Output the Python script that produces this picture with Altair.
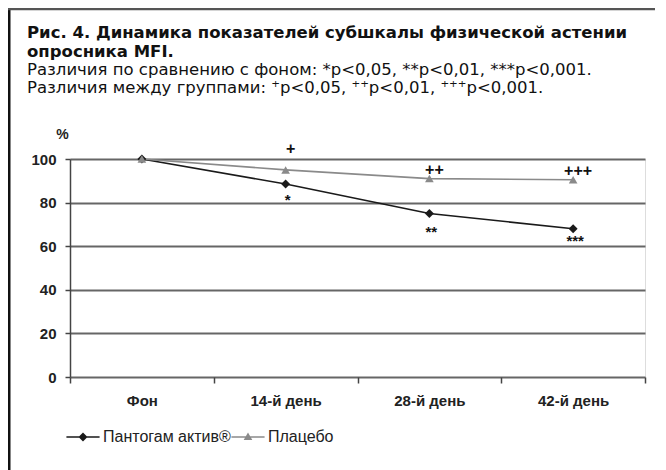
import altair as alt
import pandas as pd

categories = ["Фон", "14-й день", "28-й день", "42-й день"]
series_names = ["Пантогам актив®", "Плацебо"]
pantogam = [100, 88.5, 75, 68]
placebo = [100, 95, 91, 90.5]

plus_categories = ["14-й день", "28-й день", "42-й день"]
plus_values = [102.5, 92.8, 92.4]
plus_texts = ["+", "++", "+++"]

star_categories = ["14-й день", "28-й день", "42-й день"]
star_values = [78.7, 64, 59.9]
star_texts = ["*", "**", "***"]

y_ticks = [0, 20, 40, 60, 80, 100]

FONT = "Liberation Sans"
TFONT = "DejaVu Sans"
C_PANT = "#1a1a1a"
C_PLAC = "#8a8a8a"

rows = []
for c, v in zip(categories, pantogam):
    rows.append({"cat": c, "val": v, "series": series_names[0]})
for c, v in zip(categories, placebo):
    rows.append({"cat": c, "val": v, "series": series_names[1]})
df = pd.DataFrame(rows)

ann_plus = pd.DataFrame({"cat": plus_categories, "val": plus_values, "txt": plus_texts})
ann_star = pd.DataFrame({"cat": star_categories, "val": star_values, "txt": star_texts})

x_enc = alt.X(
    "cat:N",
    sort=categories,
    bandPosition=0.5,
    scale=alt.Scale(type="band", domain=categories, paddingInner=0, paddingOuter=0),
    axis=alt.Axis(
        title=None, labelAngle=0, tickBand="extent", tickSize=6, labelPadding=10,
        labelFont=FONT, labelFontSize=15, labelFontWeight="bold", labelColor="#222",
        domain=False, tickColor="#444", tickWidth=1.5, grid=False,
    ),
)
y_enc = alt.Y(
    "val:Q",
    scale=alt.Scale(domain=[0, 100], nice=False, zero=True),
    axis=alt.Axis(
        values=y_ticks, title="%", titleAngle=0, titleX=-8, titleY=-25,
        titleAlign="center", titleBaseline="middle", titleFont=FONT,
        titleFontSize=14, titleFontWeight="bold", titleColor="#222",
        labelFont=FONT, labelFontSize=15, labelFontWeight="bold", labelColor="#222",
        labelPadding=9, tickSize=5, tickColor="#444", tickWidth=1.5,
        domainColor="#444", domainWidth=1.5,
        grid=True, gridColor="#666", gridWidth=1.8,
    ),
)

color_scale = alt.Scale(domain=series_names, range=[C_PANT, C_PLAC])

shape_expr = (
    "datum.value === '" + series_names[1] + "' ? "
    "'M-1,-0.045H1V0.045H-1ZM-0.26,0.18L0,-0.27L0.26,0.18Z' : "
    "'M-1,-0.045H1V0.045H-1ZM-0.27,0L0,-0.27L0.27,0L0,0.27Z'"
)

legend = alt.Legend(
    title=None, orient="none", legendX=-4, legendY=261, direction="horizontal",
    labelFont=FONT, labelFontSize=16, labelColor="#222", labelOffset=3,
    symbolSize=1100, columnPadding=0, symbolStrokeWidth=0,
    symbolType={"expr": shape_expr},
)

color_enc = alt.Color("series:N", scale=color_scale, legend=legend)

lines = alt.Chart(df).mark_line(strokeWidth=1.6).encode(
    x=x_enc, y=y_enc, color=color_enc, detail="series:N",
)
points_pant = alt.Chart(df).transform_filter(
    alt.datum.series == series_names[0]
).mark_point(filled=True, opacity=1, size=80, shape="diamond").encode(
    x=x_enc, y=y_enc, color=color_enc,
)
points_plac = alt.Chart(df).transform_filter(
    alt.datum.series == series_names[1]
).mark_point(filled=True, opacity=1, size=75, shape="triangle-up").encode(
    x=x_enc, y=y_enc, color=color_enc,
)

plus_layer = alt.Chart(ann_plus).mark_text(
    font=FONT, fontSize=16, fontWeight="bold", color="#111", baseline="alphabetic", dx=5
).encode(x=x_enc, y=y_enc, text="txt:N")
star_layer = alt.Chart(ann_star).mark_text(
    font=FONT, fontSize=15, fontWeight="bold", color="#111", baseline="alphabetic", dx=2
).encode(x=x_enc, y=y_enc, text="txt:N")

one = alt.Data(values=[{}])
frame_left = alt.Chart(one).mark_rule(color="#111", strokeWidth=3).encode(
    x=alt.value(-61), y=alt.value(-151), y2=alt.value(311)
)
frame_top = alt.Chart(one).mark_rule(color="#555", strokeWidth=2.5).encode(
    x=alt.value(-62), x2=alt.value(600), y=alt.value(-150)
)

chart = alt.layer(frame_left, frame_top, lines, points_pant, points_plac, plus_layer, star_layer).properties(
    width=575, height=218,
    padding={"left": 62, "top": 151, "right": 10, "bottom": 93},
    autosize=alt.AutoSizeParams(type="none"),
    title=alt.Title(
        text=["Рис. 4. Динамика показателей субшкалы физической астении", "опросника MFI."],
        subtitle=["Различия по сравнению с фоном: *p<0,05, **p<0,01, ***p<0,001.",
                  "Различия между группами: ⁺p<0,05, ⁺⁺p<0,01, ⁺⁺⁺p<0,001."],
        anchor="start", frame="group", dx=-43, offset=-90,
        font=TFONT, fontSize=16.5, fontWeight="bold", color="#111", lineHeight=19,
        subtitleFont=TFONT, subtitleFontSize=16.5, subtitleColor="#111",
        subtitleLineHeight=18, subtitlePadding=2,
    ),
).configure_view(stroke="#555", strokeWidth=2).configure(background="white")

chart.save("out.html", embed_options={"renderer": "svg", "actions": False})
